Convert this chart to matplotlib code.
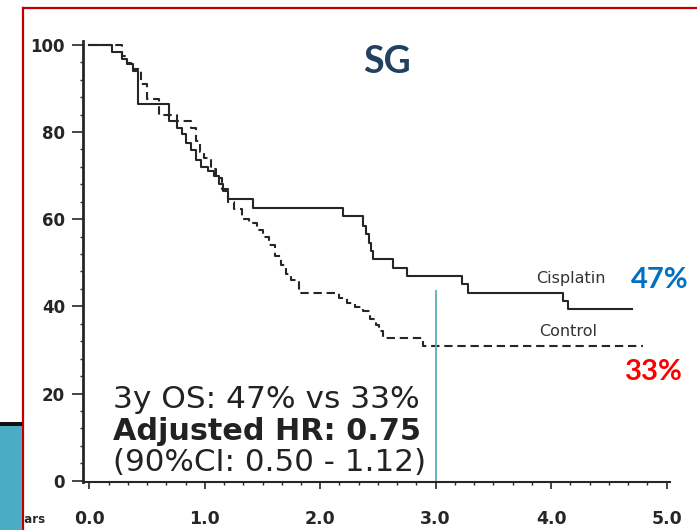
import matplotlib
matplotlib.use("Agg")
import matplotlib.pyplot as plt
from matplotlib.patches import Rectangle
from matplotlib.lines import Line2D
from matplotlib.ticker import MultipleLocator

# Kaplan-Meier steps (years, % surviving)
cis_t = [0, 0.20, 0.28, 0.33, 0.38, 0.42, 0.69, 0.76, 0.80, 0.84, 0.88, 0.92, 0.97,
         1.03, 1.08, 1.12, 1.16, 1.20, 1.42, 2.20, 2.37, 2.40, 2.42, 2.44, 2.46,
         2.63, 2.75, 3.23, 3.28, 4.10, 4.15, 4.70]
cis_s = [100, 98.3, 96.7, 95.5, 94.0, 86.4, 82.5, 81.0, 79.5, 77.5, 75.8, 73.5, 72.0,
         71.0, 70.0, 68.0, 66.5, 64.6, 62.5, 60.7, 58.5, 56.5, 54.5, 52.7, 50.9,
         48.8, 47.0, 45.1, 43.1, 41.2, 39.4, 39.4]

ctl_t = [0, 0.28, 0.33, 0.38, 0.45, 0.50, 0.60, 0.76, 0.88, 0.92, 0.96, 0.99, 1.05,
         1.10, 1.15, 1.20, 1.25, 1.32, 1.38, 1.45, 1.50, 1.56, 1.61, 1.66, 1.70,
         1.75, 1.82, 2.16, 2.23, 2.30, 2.37, 2.43, 2.48, 2.51, 2.54, 2.89, 4.80]
ctl_s = [100, 97.5, 95.8, 94.5, 91.0, 87.5, 84.0, 82.5, 80.9, 77.9, 75.5, 74.0, 71.5,
         69.5, 67.0, 64.0, 62.3, 60.0, 59.1, 57.5, 56.0, 54.0, 51.5, 49.5, 47.5,
         46.0, 43.1, 41.9, 40.8, 39.8, 38.9, 37.1, 35.8, 34.4, 32.8, 30.9, 30.9]

x_ticks = [0, 1, 2, 3, 4, 5]
x_labels = ["0.0", "1.0", "2.0", "3.0", "4.0", "5.0"]
y_ticks = [0, 20, 40, 60, 80, 100]

cutoff_year = 3.0
cutoff_top = 43.5

stats_lines = ["3y OS: 47% vs 33%", "Adjusted HR: 0.75", "(90%CI: 0.50 - 1.12)"]

INK = "#262626"

fig = plt.figure(figsize=(6.97, 5.30), dpi=100)
ax = fig.add_axes([83 / 697, 1 - 482 / 530, (670 - 83) / 697, (482 - 40.5) / 530])

ax.step(cis_t, cis_s, where="post", color=INK, lw=1.5)
ax.step(ctl_t, ctl_s, where="post", color=INK, lw=1.5, linestyle=(0, (4.0, 2.3)))
ax.plot([cutoff_year, cutoff_year], [0, cutoff_top], color="#5aaeb0", lw=1.3)

ax.set_xlim(-0.055, 5.03)
ax.set_ylim(-0.3, 101)

for side in ("top", "right"):
    ax.spines[side].set_visible(False)
ax.spines["left"].set_linewidth(2.0)
ax.spines["bottom"].set_linewidth(1.5)
ax.spines["left"].set_color(INK)
ax.spines["bottom"].set_color(INK)

ax.set_xticks(x_ticks)
ax.set_xticklabels(x_labels)
ax.set_yticks(y_ticks)
ax.xaxis.set_minor_locator(MultipleLocator(1 / 6))
ax.yaxis.set_minor_locator(MultipleLocator(4))
ax.tick_params(axis="x", which="major", length=5, width=1.2, pad=15, labelsize=12.5, colors=INK)
ax.tick_params(axis="y", which="major", length=8, width=1.2, pad=5, labelsize=12, colors=INK)
ax.tick_params(which="minor", length=2.5, width=1.0, colors=INK)
for lab in ax.get_xticklabels() + ax.get_yticklabels():
    lab.set_fontweight("bold")

ax.text(-0.383, -8.9, "Years", ha="right", va="center", fontsize=8.5,
        fontweight="bold", color=INK, clip_on=False)

ax.text(4.17, 46.5, "Cisplatin", ha="center", va="center", fontsize=11.5, color="#333333")
ax.text(4.15, 34.2, "Control", ha="center", va="center", fontsize=11.5, color="#333333")

ax.text(2.58, 96.0, "SG", ha="center", va="center", fontsize=27, fontweight="bold",
        color="#22405f", family="Lato")
ax.text(4.94, 46.0, "47%", ha="center", va="center", fontsize=21, fontweight="bold",
        color="#0070c0", family="Lato", clip_on=False)
ax.text(4.89, 25.0, "33%", ha="center", va="center", fontsize=21, fontweight="bold",
        color="#ff0000", family="Lato", clip_on=False)

for (line, y, w, fs) in zip(stats_lines, [18.6, 11.2, 4.1], ["normal", "bold", "normal"],
                            [22.5, 21.8, 22.3]):
    ax.text(0.205, y, line, ha="left", va="center", fontsize=fs, fontweight=w, color="#222222")

# slide decoration: red frame and the blue side box
fig.add_artist(Line2D([23 / 697, 23 / 697], [0, 1 - 8 / 530], transform=fig.transFigure,
                      color="#c00000", lw=1.6))
fig.add_artist(Line2D([23 / 697, 1], [1 - 8 / 530, 1 - 8 / 530], transform=fig.transFigure,
                      color="#c00000", lw=1.6))
fig.add_artist(Rectangle((0, 0), 22 / 697, 104 / 530, transform=fig.transFigure,
                         facecolor="#4bacc6", edgecolor="none", zorder=5))
fig.add_artist(Rectangle((0, 104 / 530), 22 / 697, 4 / 530, transform=fig.transFigure,
                         facecolor="#111111", edgecolor="none", zorder=5))

fig.savefig("out.png", dpi=100)
